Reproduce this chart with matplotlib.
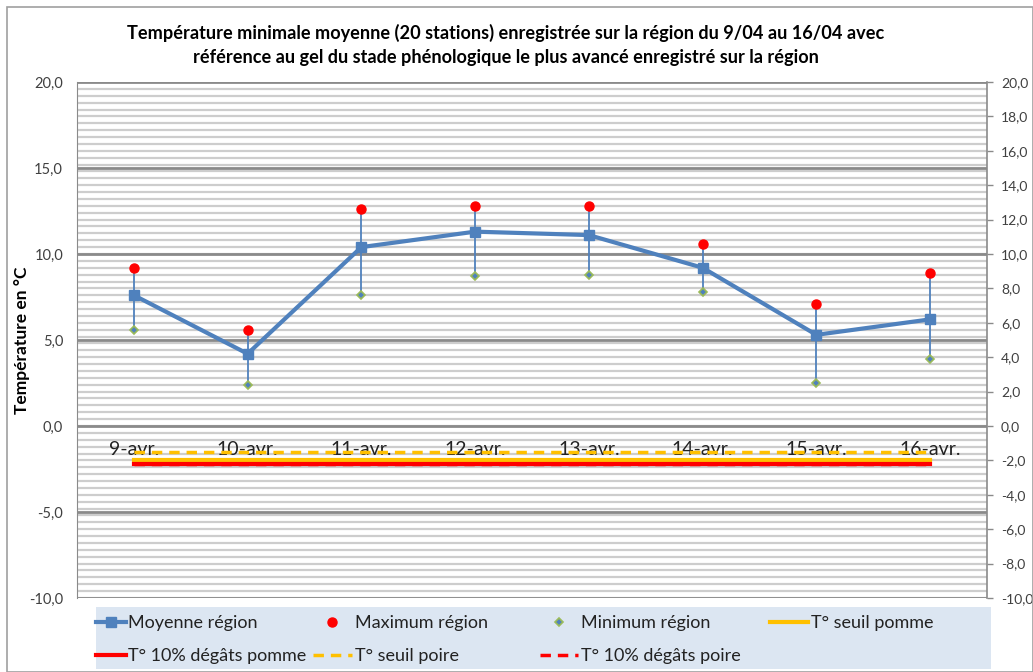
import matplotlib
matplotlib.use("Agg")
import matplotlib.pyplot as plt
from matplotlib.patches import Rectangle
import numpy as np

plt.rcParams['font.family'] = ['Lato', 'DejaVu Sans']

dates = ["9-avr.", "10-avr.", "11-avr.", "12-avr.", "13-avr.", "14-avr.", "15-avr.", "16-avr."]
moyenne = [7.6, 4.2, 10.4, 11.3, 11.1, 9.2, 5.3, 6.2]
maximum = [9.2, 5.6, 12.6, 12.8, 12.8, 10.6, 7.1, 8.9]
minimum = [5.6, 2.4, 7.6, 8.7, 8.8, 7.8, 2.5, 3.9]
seuil_pomme = [-2.0] * 8
degats_pomme = [-2.2] * 8
seuil_poire = [-1.5] * 8
degats_poire = [-2.2] * 8

title = ("Température minimale moyenne (20 stations) enregistrée sur la région du 9/04 au 16/04 avec\n"
         "référence au gel du stade phénologique le plus avancé enregistré sur la région")

W, H = 1033, 672
fig = plt.figure(figsize=(W / 100, H / 100), dpi=100)
ax = fig.add_axes([77 / W, 1 - 598 / H, (987 - 77) / W, (598 - 82) / H])

x = np.arange(len(dates))
ymin, ymax = -10, 20
ax.set_xlim(-0.5, len(dates) - 0.5)
ax.set_ylim(ymin, ymax)

# gridlines
for v in np.arange(ymin, ymax + 0.001, 0.4):
    ax.axhline(v, color='#cdcdcd', lw=1.6, zorder=0)
for v in np.arange(ymin, ymax + 0.001, 5):
    ax.axhline(v, color='#8a8a8a', lw=2.0, zorder=0.5)

blue = '#4F81BD'
for xi, lo, hi in zip(x, minimum, maximum):
    ax.plot([xi, xi], [lo, hi], color=blue, lw=1.3, zorder=2)

ax.plot(x, seuil_pomme, color='#FFC000', lw=3, zorder=3, label='T° seuil pomme')
ax.plot(x, degats_pomme, color='#FF0000', lw=3, zorder=3, label='T° 10% dégâts pomme')
ax.plot(x, seuil_poire, color='#FFC000', lw=2.5, ls=(0, (3, 2)), zorder=3, label='T° seuil poire')
ax.plot(x, degats_poire, color='#FF0000', lw=2.5, ls=(0, (3, 2)), zorder=3, label='T° 10% dégâts poire')

ax.plot(x, moyenne, color=blue, lw=3, marker='s', ms=7, zorder=4, label='Moyenne région')
ax.plot(x, maximum, ls='none', marker='o', ms=6.5, color='#FF0000', zorder=5, label='Maximum région')
ax.plot(x, minimum, ls='none', marker='D', ms=4.5, color='#4F81BD', mec='#9BBB59', mew=1.2, zorder=5,
        label='Minimum région')

ax.spines['top'].set_visible(False)
ax.spines['left'].set_color('#8a8a8a')
ax.spines['right'].set_visible(False)
ax.spines['bottom'].set_position(('data', 0))
ax.spines['bottom'].set_color('none')

ax.set_xticks(x)
ax.set_xticklabels(dates, fontsize=14, color='#222222')
ax.tick_params(axis='x', length=0, pad=11)
ax.set_yticks(np.arange(ymin, ymax + 0.001, 5))
ax.set_yticklabels([f"{v:.1f}".replace('.', ',') for v in np.arange(ymin, ymax + 0.001, 5)],
                   fontsize=10.5, color='#404040')
ax.tick_params(axis='y', length=0, pad=10)
ax.set_ylabel("Température en °C", fontsize=12.5, fontweight='bold')
ax.yaxis.set_label_coords((30 - 77) / 910, 0.5)

ax2 = ax.twinx()
ax2.set_ylim(ymin, ymax)
rt = np.arange(ymin, ymax + 0.001, 2)
ax2.set_yticks(rt)
ax2.set_yticklabels([f"{v:.1f}".replace('.', ',') for v in rt], fontsize=10, color='#404040')
ax2.tick_params(axis='y', length=4, width=1, color='#8a8a8a', pad=6)
for s in ['top', 'left', 'bottom']:
    ax2.spines[s].set_visible(False)
ax2.spines['right'].set_color('#8a8a8a')
ax2.spines['right'].set_linewidth(1.2)

fig.text(506 / W, 1 - 45 / H, title, ha='center', va='center', fontsize=13.1, fontweight='bold',
         linespacing=1.5, color='#000000')

fig.patches.append(Rectangle((7 / W, 0), 1 - 7 / W - 0.5 / W, 1 - 7 / H, transform=fig.transFigure,
                             fill=False, edgecolor='#a0a0a0', lw=1.2))

# legend background
fig.patches.append(Rectangle((96 / W, 1 - 669 / H), (991 - 96) / W, (669 - 607) / H,
                             transform=fig.transFigure, facecolor='#DCE6F2', edgecolor='none', zorder=0))

h, l = ax.get_legend_handles_labels()
d = dict(zip(l, h))
columns = [(96, 1.65, ['Moyenne région', 'T° 10% dégâts pomme']),
           (313, 2.15, ['Maximum région', 'T° seuil poire']),
           (540, 2.1, ['Minimum région', 'T° 10% dégâts poire']),
           (770, 2.1, ['T° seuil pomme'])]
for xpx, hl, names in columns:
    lg = fig.legend([d[k] for k in names], names, loc='upper left',
                    bbox_to_anchor=(xpx / W, 1 - 615 / H), frameon=False, fontsize=13,
                    handlelength=hl, handletextpad=0.15, borderaxespad=0, borderpad=0,
                    labelspacing=0.95)
    for t in lg.get_texts():
        t.set_color('#222222')

fig.savefig('out.png', dpi=100)
